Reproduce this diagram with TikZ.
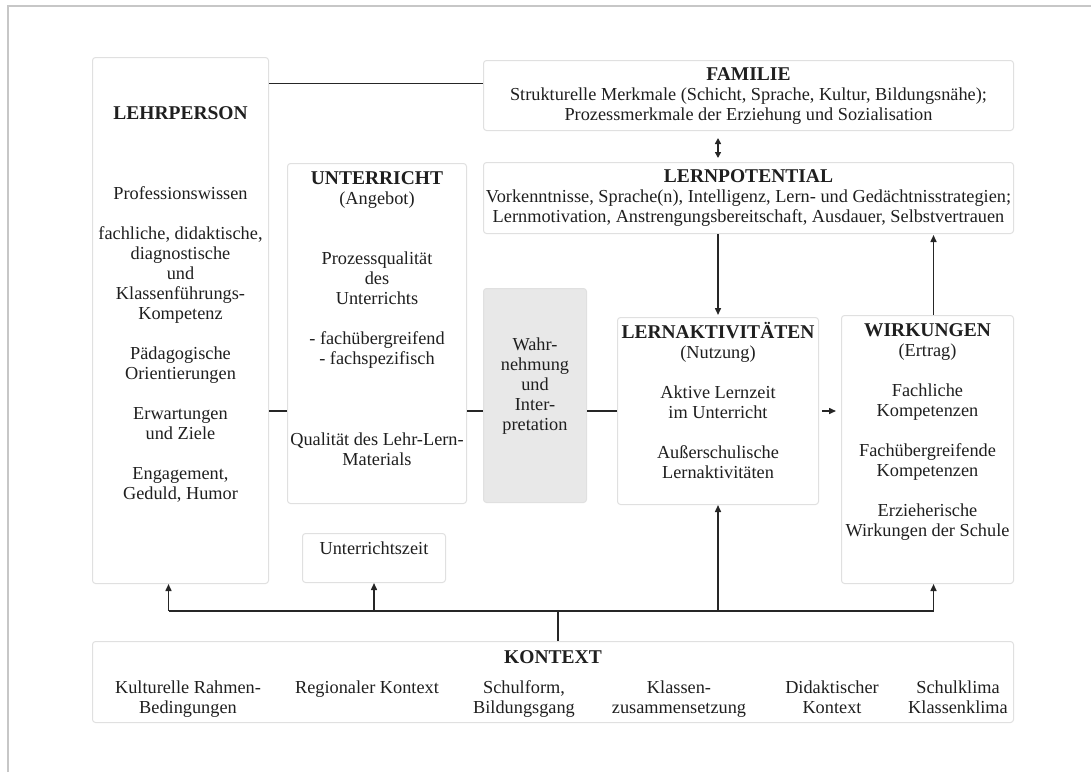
\documentclass[tikz,border=0pt]{standalone}
\usepackage{fontspec}
\setmainfont{Liberation Serif}
\usetikzlibrary{arrows.meta}

\newcommand{\boxtitle}[1]{{\fontsize{19.5}{20}\selectfont\bfseries #1}}

\begin{document}
\begin{tikzpicture}[
    % ── Global: one unit = one pixel of the layout grid ──
    x=1pt, y=-1pt,
    % ── Node Styles ──
    panel/.style={
        rectangle, rounded corners=3pt,
        draw=black!12, line width=1pt,
        fill=white, anchor=north west, inner sep=0pt
    },
    shaded/.style={
        panel, fill=black!9
    },
    % texts hang on the baseline of their last line
    txt/.style={
        anchor=base, align=center, inner sep=0pt,
        font=\fontsize{18.3}{20}\selectfont, text=black!88
    },
    link/.style={line width=1.5pt, draw=black!85},
    arrow/.style={link, -{Triangle[length=7pt, width=6pt]}},
    arrowboth/.style={link, {Triangle[length=6pt, width=6pt]}-{Triangle[length=6pt, width=6pt]}},
    frame/.style={line width=2.5pt, draw=black!22},
]

\useasboundingbox (0,0) rectangle (1091,772);
\draw [frame] (8,772) -- (8,6) -- (1091,6);

% ════════════════════════════════════════════════════════
%  BOXES
% ════════════════════════════════════════════════════════

\node (lehrer)  [panel, minimum width=176pt, minimum height=526pt] at (92,57)  {};
\node (unterr)  [panel, minimum width=179pt, minimum height=340pt] at (287,163) {};
\node (uzeit)   [panel, minimum width=143pt, minimum height=49pt]  at (302,533) {};
\node (familie) [panel, minimum width=530pt, minimum height=70pt]  at (483,60)  {};
\node (lernpot) [panel, minimum width=530pt, minimum height=71pt]  at (483,162) {};
\node (wahrn)   [shaded, minimum width=103pt, minimum height=214pt] at (483,288) {};
\node (lernakt) [panel, minimum width=201pt, minimum height=187pt] at (617,317) {};
\node (wirk)    [panel, minimum width=172pt, minimum height=268pt] at (841,315) {};
\node (kontext) [panel, minimum width=921pt, minimum height=81pt]  at (92,641)  {};

% ════════════════════════════════════════════════════════
%  TEXTS
% ════════════════════════════════════════════════════════

\node (lehrer-t) [txt] at ([yshift=-442pt]lehrer.north)
    {\boxtitle{LEHRPERSON}\\[60pt]
     Professionswissen\\[20pt]
     fachliche, didaktische,\\ diagnostische\\ und\\ Klassenführungs-\\ Kompetenz\\[20pt]
     Pädagogische\\ Orientierungen\\[20pt]
     Erwartungen\\ und Ziele\\[20pt]
     Engagement,\\ Geduld, Humor};

\node (unterr-t) [txt] at ([yshift=-302pt]unterr.north)
    {\boxtitle{UNTERRICHT}\\ (Angebot)\\[40pt]
     Prozessqualität\\ des\\ Unterrichts\\[20pt]
     - fachübergreifend\\ - fachspezifisch\\[61pt]
     Qualität des Lehr-Lern-\\ Materials};

\node (uzeit-t) [txt] at ([yshift=-21pt]uzeit.north) {Unterrichtszeit};

\node (familie-t) [txt] at ([yshift=-60pt]familie.north)
    {\boxtitle{FAMILIE}\\
     Strukturelle Merkmale (Schicht, Sprache, Kultur, Bildungsnähe);\\
     Prozessmerkmale der Erziehung und Sozialisation};

\node (lernpot-t) [txt] at ([yshift=-60pt]lernpot.north)
    {\boxtitle{LERNPOTENTIAL}\\
     Vorkenntnisse, Sprache(n), Intelligenz, Lern- und Gedächtnisstrategien;\\
     Lernmotivation, Anstrengungsbereitschaft, Ausdauer, Selbstvertrauen};

\node (wahrn-t) [txt] at ([yshift=-142pt]wahrn.north)
    {Wahr-\\ nehmung\\ und\\ Inter-\\ pretation};

\node (lernakt-t) [txt] at ([yshift=-161pt]lernakt.north)
    {\boxtitle{LERNAKTIVITÄTEN}\\ (Nutzung)\\[20pt]
     Aktive Lernzeit\\ im Unterricht\\[20pt]
     Außerschulische\\ Lernaktivitäten};

\node (wirk-t) [txt] at ([yshift=-221pt]wirk.north)
    {\boxtitle{WIRKUNGEN}\\ (Ertrag)\\[20pt]
     Fachliche\\ Kompetenzen\\[20pt]
     Fachübergreifende\\ Kompetenzen\\[20pt]
     Erzieherische\\ Wirkungen der Schule};

\node (kontext-t) [txt] at ([yshift=-22pt]kontext.north) {\boxtitle{KONTEXT}};

% context factors, one column each
\foreach \px/\py/\name/\body in {
    188/713/kultur/{Kulturelle Rahmen-\\ Bedingungen},
    367/693/region/{Regionaler Kontext},
    524/713/schulform/{Schulform,\\ Bildungsgang},
    679/713/klasse/{Klassen-\\ zusammensetzung},
    832/713/didaktik/{Didaktischer\\ Kontext},
    958/713/klima/{Schulklima\\ Klassenklima}}
    \node (\name) [txt] at (\px,\py) {\body};

% ════════════════════════════════════════════════════════
%  CONNECTORS
% ════════════════════════════════════════════════════════

% Teacher -- family
\coordinate (famlink) at ([yshift=12pt]familie.west);
\draw [link] (famlink -| lehrer.east) -- (famlink);

% Middle row
\draw [link] (lehrer.east |- lernakt.west) -- (unterr.west |- lernakt.west);
\draw [link] (unterr.east |- lernakt.west) -- (wahrn.west |- lernakt.west);
\draw [link] (wahrn.east |- lernakt.west) -- (lernakt.west);
\draw [arrow, shorten <=3pt, shorten >=5pt] (lernakt.east) -- (wirk.west |- lernakt.east);

% Family, potential, activities, outcomes
\draw [arrowboth, shorten <=7pt, shorten >=4pt] (familie.south -| lernakt.north) -- (lernpot.north -| lernakt.north);
\draw [arrow, shorten >=2pt] (lernpot.south -| lernakt.north) -- (lernakt.north);
\coordinate (wtop) at ([xshift=6pt]wirk.north);
\draw [arrow, shorten >=1pt] (wtop) -- (wtop |- lernpot.south);

% Context bus
\coordinate (bus)   at ([xshift=5pt, yshift=30pt]kontext.north);
\coordinate (lfoot) at ([xshift=-12pt]lehrer.south);
\coordinate (wfoot) at ([xshift=6pt]wirk.south);
\draw [link] ([xshift=5pt]kontext.north) -- (bus);
\draw [link] (bus -| lfoot) -- (bus -| wfoot);
\draw [arrow] (bus -| lfoot) -- (lfoot);
\draw [arrow] (bus -| uzeit.south) -- (uzeit.south);
\draw [arrow] (bus -| lernakt.south) -- (lernakt.south);
\draw [arrow] (bus -| wfoot) -- (wfoot);

\end{tikzpicture}
\end{document}
